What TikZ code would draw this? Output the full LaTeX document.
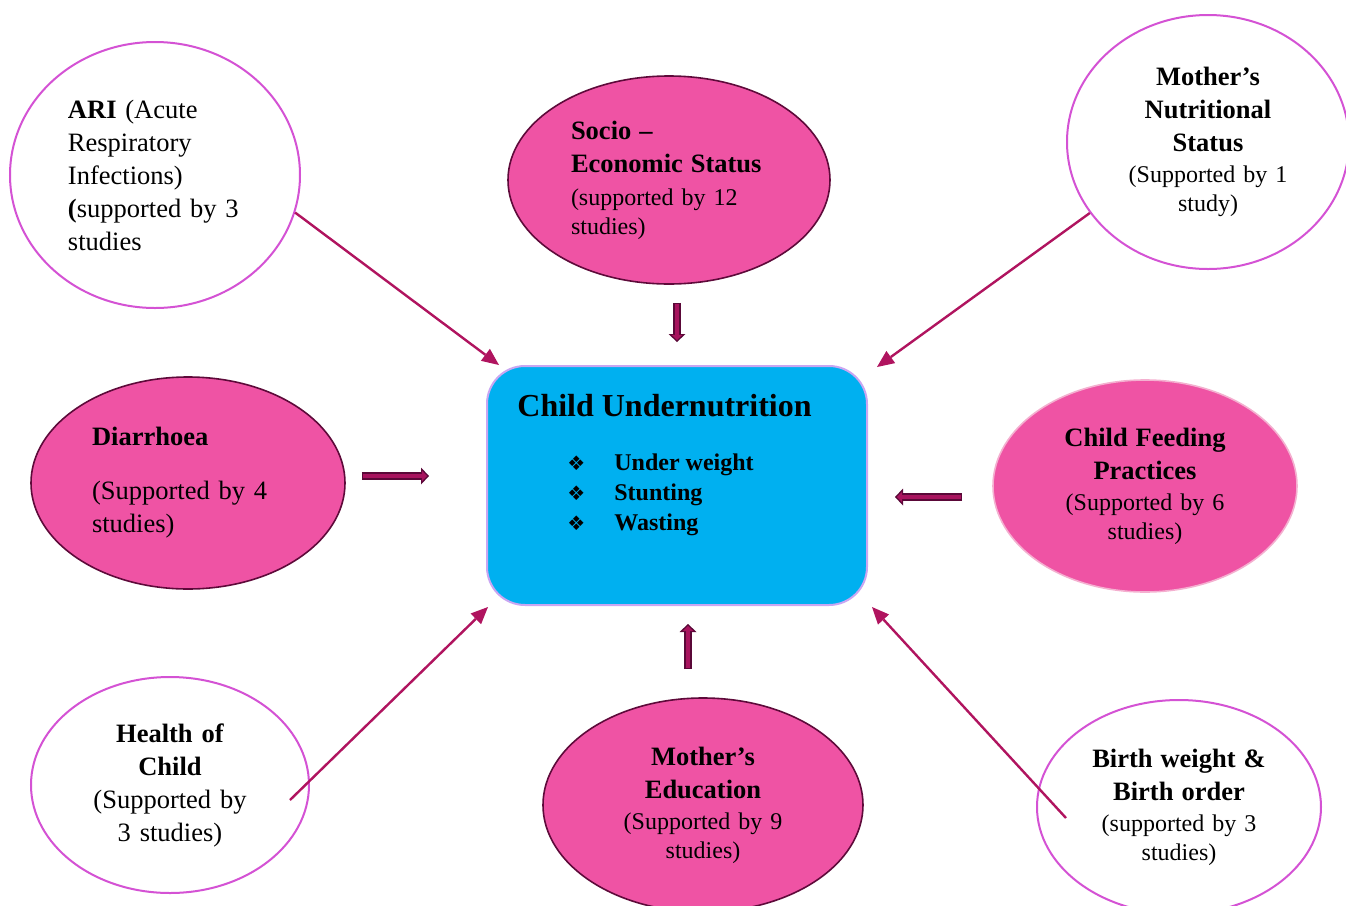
\documentclass[tikz,border=0pt]{standalone}
\usepackage{fontspec}
\setmainfont{Liberation Serif}
\newfontfamily\symfont{DejaVu Sans}
\usetikzlibrary{shapes.geometric,arrows.meta,calc}

\definecolor{pinkfill}{HTML}{EF53A4}
\definecolor{darkrim}{HTML}{5E0A3A}
\definecolor{lightrim}{HTML}{F4B0D0}
\definecolor{orchidrim}{HTML}{D452D4}
\definecolor{arrowred}{HTML}{B0145F}
\definecolor{blockdark}{HTML}{5A0838}
\definecolor{blockred}{HTML}{A8135E}
\definecolor{boxblue}{HTML}{00B0F0}
\definecolor{boxrim}{HTML}{C9A6F2}

\newcommand{\bodysize}{\fontsize{13.25pt}{16.5pt}\selectfont}
\newcommand{\notesize}{\fontsize{12pt}{14.5pt}\selectfont}

\begin{document}
\begin{tikzpicture}[x=0.5pt, y=-0.5pt,
    factor/.style={ellipse, inner sep=0pt, text=black},
    strong/.style={factor, fill=pinkfill, draw=darkrim, line width=0.8pt},
    weak/.style={factor, fill=white, draw=orchidrim, line width=1pt},
    link/.style={draw=arrowred, line width=1.2pt, -{Triangle[length=8.5pt,width=7.5pt,line width=0pt]}},
    blockout/.style={draw=blockdark, line width=4pt, -{Triangle[length=4pt,width=8.5pt,line width=0pt]}},
    blockin/.style={draw=blockred, line width=2pt, -{Triangle[length=2.6pt,width=5.5pt,line width=0pt]}}]

\useasboundingbox (0,0) rectangle (1346,906);

% central box
\node (box) [rectangle, rounded corners=19pt, fill=boxblue, draw=boxrim, line width=1pt,
    minimum width=190pt, minimum height=119.5pt] at (677,485.5) {};
\node (title) [anchor=base west, inner sep=0pt, font=\fontsize{16pt}{19pt}\selectfont\bfseries]
    at ([shift={(31,51)}]box.north west) {Child Undernutrition};
\foreach \txt [count=\i] in {Under weight, Stunting, Wasting}
  \node (item\i) [anchor=base west, inner sep=0pt, font=\fontsize{12pt}{15pt}\selectfont\bfseries]
      at ([shift={(81,75+30*\i)}]box.north west)
      {\makebox[23.5pt][l]{\symfont\fontsize{10pt}{12pt}\selectfont ❖}\txt};

% factors
\node (ari) [weak, minimum width=145pt, minimum height=133pt, text width=87pt, align=left, font=\bodysize]
    at (155,175) {\textbf{ARI} (Acute\\ Respiratory\\ Infections)\\ \textbf{(}supported by 3\\ studies};

\node (socio) [strong, minimum width=161pt, minimum height=104pt, text width=98pt, align=left, font=\notesize]
    at (669,180) {{\bodysize\bfseries Socio –}\\[2pt] {\bodysize\bfseries Economic Status}\\[2pt] (supported by 12\\ studies)};

\node (mnut) [weak, minimum width=141pt, minimum height=127pt, text width=90pt, align=center, font=\notesize]
    at (1208,142) {{\bodysize\bfseries Mother’s}\\[2pt] {\bodysize\bfseries Nutritional}\\[2pt] {\bodysize\bfseries Status}\\[1pt] (Supported by 1\\ study)};

\node (diar) [strong, minimum width=157pt, minimum height=106pt, text width=96pt, align=left, font=\bodysize]
    at (188,483) {\textbf{Diarrhoea}\\[10.5pt] (Supported by 4\\ studies)};

\node (feed) [strong, draw=lightrim, minimum width=152pt, minimum height=106pt, text width=90pt, align=center, font=\notesize]
    at (1145,486) {{\bodysize\bfseries Child Feeding}\\[2pt] {\bodysize\bfseries Practices}\\[1pt] (Supported by 6\\ studies)};

\node (health) [weak, minimum width=139pt, minimum height=108pt, text width=90pt, align=center, font=\bodysize]
    at (170,785) {\textbf{Health of}\\ \textbf{Child}\\ (Supported by\\ 3 studies)};

\node (educ) [strong, minimum width=160pt, minimum height=107pt, text width=90pt, align=center, font=\notesize]
    at (703,805) {{\bodysize\bfseries Mother’s}\\[2pt] {\bodysize\bfseries Education}\\[1pt] (Supported by 9\\ studies)};

\node (birth) [weak, minimum width=142pt, minimum height=107pt, text width=90pt, align=center, font=\notesize]
    at (1179,807) {{\bodysize\bfseries Birth weight \&}\\[2pt] {\bodysize\bfseries Birth order}\\[1pt] (supported by 3\\ studies)};

% thin arrows from the white factors
\draw[link] (ari.-15) -- ([xshift=6.5pt]box.north west);
\draw[link] (mnut.211) -- ([shift={(9,2)}]box.north east);
\draw[link] ([shift={(120,15)}]health.center) -- ([shift={(2,1)}]box.south west);
\draw[link] ([shift={(-113,11)}]birth.center) -- ([shift={(4,1)}]box.south east);

% block arrows from the pink factors
\draw[blockout, shorten <=9pt, shorten >=11.5pt] (socio.south -| box.north) -- (box.north);
\draw[blockin, shorten <=9.7pt, shorten >=12.5pt] (socio.south -| box.north) -- (box.north);

\draw[blockout, shorten <=8pt, shorten >=28.5pt] ($(diar.east)+(0,-7)$) -- ($(diar.east -| box.west)+(0,-7)$);
\draw[blockin, shorten <=8.7pt, shorten >=29.5pt] ($(diar.east)+(0,-7)$) -- ($(diar.east -| box.west)+(0,-7)$);

\draw[blockout, shorten <=15pt, shorten >=13.5pt] ($(feed.west)+(0,11)$) -- ($(feed.west -| box.east)+(0,11)$);
\draw[blockin, shorten <=15.7pt, shorten >=14.5pt] ($(feed.west)+(0,11)$) -- ($(feed.west -| box.east)+(0,11)$);

\draw[blockout, shorten <=14pt, shorten >=9pt] ($(educ.north)+(-15,0)$) -- ($(educ.north |- box.south)+(-15,0)$);
\draw[blockin, shorten <=14.7pt, shorten >=10pt] ($(educ.north)+(-15,0)$) -- ($(educ.north |- box.south)+(-15,0)$);

\end{tikzpicture}
\end{document}
